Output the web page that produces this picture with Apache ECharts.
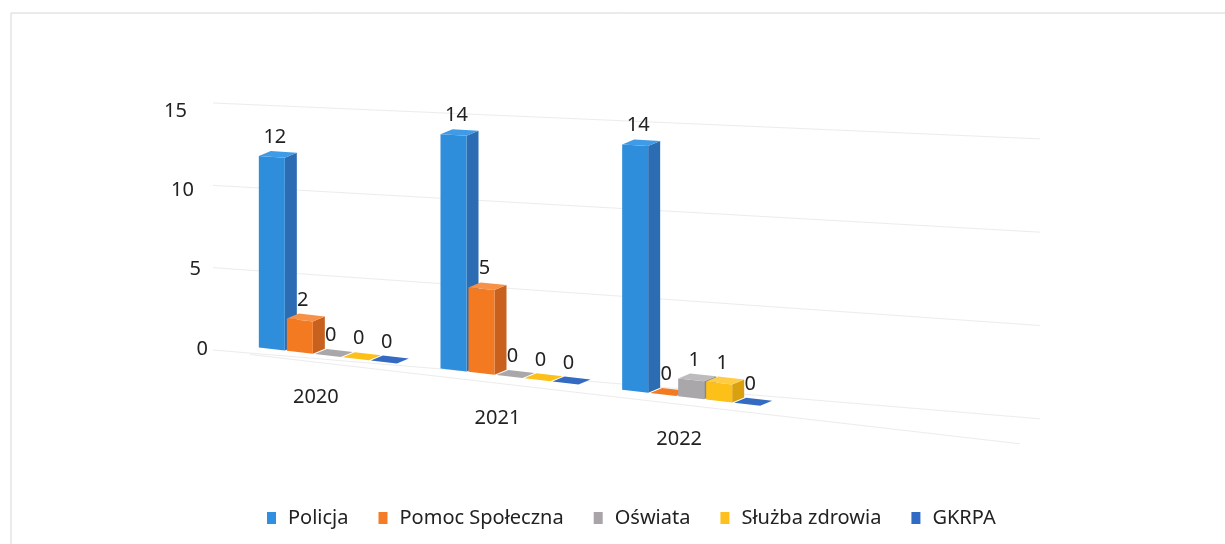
<!DOCTYPE html>
<html>
<head>
<meta charset="utf-8">
<title>Chart</title>
<script src="https://cdn.jsdelivr.net/npm/echarts@6/dist/echarts.min.js"></script>
<style>
  html, body { margin: 0; padding: 0; background: #fff; }
  #chart { width: 1225px; height: 544px; }
</style>
</head>
<body>
<div id="chart"></div>
<script>
// data
const years = ['2020', '2021', '2022']
const seriesNames = ['Policja', 'Pomoc Społeczna', 'Oświata', 'Służba zdrowia', 'GKRPA']
const policja = [12, 14, 14]
const pomocSpoleczna = [2, 5, 0]
const oswiata = [0, 0, 1]
const sluzbaZdrowia = [0, 0, 1]
const gkrpa = [0, 0, 0]
const yTicks = [0, 5, 10, 15]

const seriesValues = [policja, pomocSpoleczna, oswiata, sluzbaZdrowia, gkrpa]

// colours: front / side / top of each box
const faces = [
  { front: '#2e8edc', side: '#2c6cb2', top: '#3f9be6' },
  { front: '#f47a22', side: '#c8611d', top: '#f79148' },
  { front: '#a9a7aa', side: '#8a888b', top: '#bdbbbe' },
  { front: '#fdc018', side: '#d9a00f', top: '#ffcd45' },
  { front: '#356ac2', side: '#2a5599', top: '#3f76d0' }
]
const legendColors = ['#2f8fe0', '#f57c26', '#a8a4a8', '#fdc01f', '#2f6bc4']

const FONT = 'Noto Sans'
// fake 3d perspective: floor slopes down to the right, bars grow slightly
const SB = 0.116
const SK = 0.00027
const STEP = 28
const BAR_W = 26
const DX = 12
const DY = -5

function fraction(api, cs, idx, v) {
  const y = api.coord([idx, v])[1]
  return (cs.y + cs.height - y) / cs.height
}

function yBar(cs, x, f) {
  const base = cs.y + cs.height + SB * (x - cs.x)
  const span = cs.height * (1 + SK * (x - cs.x))
  return base - f * span
}

// back wall lines
function yWall(cs, x, f) {
  const xL = cs.x - 24
  const base = cs.y + cs.height + 5 + 0.0832 * (x - xL)
  const top = cs.y - 4 + 0.0434 * (x - xL)
  return base - f * (base - top)
}

function renderBar(params, api) {
  const cs = params.coordSys
  const idx = api.value(0)
  const v = api.value(1)
  const si = params.seriesIndex
  const c = faces[si]
  const cx = api.coord([idx, 0])[0]
  const f = fraction(api, cs, idx, v)
  const x1 = cx + (si - 2) * STEP - BAR_W / 2
  const x2 = x1 + BAR_W
  const yb1 = yBar(cs, x1, 0)
  const yb2 = yBar(cs, x2, 0)
  const yt1 = yBar(cs, x1, f)
  const yt2 = yBar(cs, x2, f)
  const children = [
    {
      type: 'polygon',
      shape: { points: [[x2, yt2], [x2 + DX, yt2 + DY], [x2 + DX, yb2 + DY], [x2, yb2]] },
      style: { fill: c.side }
    },
    {
      type: 'polygon',
      shape: { points: [[x1, yt1], [x2, yt2], [x2, yb2], [x1, yb1]] },
      style: { fill: c.front }
    },
    {
      type: 'polygon',
      shape: { points: [[x1, yt1], [x2, yt2], [x2 + DX, yt2 + DY], [x1 + DX, yt1 + DY]] },
      style: { fill: v === 0 ? c.front : c.top }
    },
    {
      type: 'text',
      style: {
        text: String(v),
        x: x1 + BAR_W / 2 + 3,
        y: (yt1 + yt2) / 2 - 20,
        fill: '#222',
        font: '20px "' + FONT + '"',
        align: 'center',
        verticalAlign: 'middle'
      }
    }
  ]
  return { type: 'group', children: children }
}

function renderGrid(params, api) {
  const cs = params.coordSys
  const v = api.value(1)
  const f = fraction(api, cs, 0, v)
  const xL = cs.x - 24
  const xR = cs.x + 803
  const children = [
    {
      type: 'line',
      shape: { x1: xL, y1: yWall(cs, xL, f), x2: xR, y2: yWall(cs, xR, f) },
      style: { stroke: '#ececec', lineWidth: 1 }
    },
    {
      type: 'text',
      style: {
        text: String(v),
        x: cs.x - 50 + (1 - f) * 21,
        y: api.coord([0, v])[1] + 4,
        fill: '#222',
        font: '20px "' + FONT + '"',
        align: 'right',
        verticalAlign: 'middle'
      }
    }
  ]
  if (v === 0) {
    // front edge of the floor
    const a = cs.x + 13
    const b = cs.x + 783
    children.push({
      type: 'line',
      shape: { x1: a, y1: yBar(cs, a, 0) + 8, x2: b, y2: yBar(cs, b, 0) + 8 },
      style: { stroke: '#ececec', lineWidth: 1 }
    })
  }
  return { type: 'group', children: children }
}

function renderYear(params, api) {
  const cs = params.coordSys
  const idx = api.value(0)
  const x = api.coord([idx, 0])[0] - 12
  return {
    type: 'text',
    style: {
      text: years[idx],
      x: x,
      y: yBar(cs, x, 0) + 43,
      fill: '#222',
      font: '20px "' + FONT + '"',
      align: 'center',
      verticalAlign: 'middle'
    }
  }
}

const barSeries = seriesNames.map((name, i) => ({
  name: name,
  type: 'custom',
  renderItem: renderBar,
  itemStyle: { color: legendColors[i] },
  encode: { x: 0, y: 1 },
  data: seriesValues[i].map((v, j) => [j, v]),
  silent: true,
  z: 3
}))

const chart = echarts.init(document.getElementById('chart'))
chart.setOption({
  animation: false,
  backgroundColor: '#fff',
  color: legendColors,
  textStyle: { fontFamily: FONT },
  graphic: [
    {
      type: 'rect',
      shape: { x: 11, y: 13, width: 1300, height: 700 },
      style: { fill: 'none', stroke: '#d6d6d6', lineWidth: 1 },
      silent: true
    }
  ],
  grid: {
    left: 237,
    right: 443,
    top: 107,
    bottom: 199
  },
  legend: {
    data: seriesNames,
    left: 262,
    top: 503,
    icon: 'rect',
    itemWidth: 9,
    itemHeight: 12,
    itemGap: 30,
    textStyle: {
      fontFamily: FONT,
      fontSize: 20,
      color: '#222',
      padding: [0, 0, 0, 7]
    }
  },
  xAxis: {
    type: 'category',
    data: years,
    show: false
  },
  yAxis: {
    type: 'value',
    min: 0,
    max: 15,
    interval: 5,
    show: false
  },
  series: barSeries.concat([
    {
      name: 'grid',
      type: 'custom',
      renderItem: renderGrid,
      encode: { x: 0, y: 1 },
      data: yTicks.map(v => [0, v]),
      silent: true,
      z: 1
    },
    {
      name: 'years',
      type: 'custom',
      renderItem: renderYear,
      encode: { x: 0, y: 1 },
      data: years.map((y, i) => [i, 0]),
      silent: true,
      z: 2
    }
  ])
})
</script>
</body>
</html>
